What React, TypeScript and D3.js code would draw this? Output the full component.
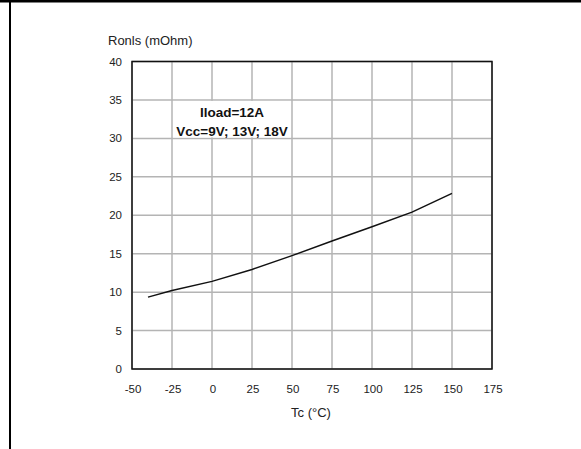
import React from "react";
import * as d3 from "d3";

const tempC = [-40, -25, 0, 25, 50, 75, 100, 125, 150];
const ronls = [9.35, 10.2, 11.4, 12.95, 14.75, 16.65, 18.5, 20.4, 22.85];
const xTicks = [-50, -25, 0, 25, 50, 75, 100, 125, 150, 175];
const yTicks = [0, 5, 10, 15, 20, 25, 30, 35, 40];
const annotLines = ["Iload=12A", "Vcc=9V; 13V; 18V"];

const W = 581, H = 449;
const L = 132, R = 492, T = 61.5, B = 369;

export default function App() {
  const x = d3.scaleLinear().domain([-50, 175]).range([L, R]);
  const y = d3.scaleLinear().domain([0, 40]).range([B, T]);
  const line = d3.line<number>().x((_, i) => x(tempC[i])).y((d) => y(d)).curve(d3.curveLinear);
  const font = "'Liberation Sans', Arial, sans-serif";
  const bx0 = x(-25), bx1 = x(50), by0 = y(35), by1 = y(30);
  return (
    <svg width={W} height={H} style={{ position: "absolute", left: 0, top: 0, background: "#fff" }} fontFamily={font}>
      <rect x={0} y={0} width={W} height={H} fill="#fff" />
      <line x1={0} x2={W} y1={1.25} y2={1.25} stroke="#000" strokeWidth={2.5} />
      <line x1={10} x2={10} y1={0} y2={H} stroke="#000" strokeWidth={2} />
      {xTicks.map((t) => (
        <line key={"gx" + t} x1={x(t)} x2={x(t)} y1={T} y2={B} stroke="#b4b4b4" strokeWidth={1.5} />
      ))}
      {yTicks.map((t) => (
        <line key={"gy" + t} x1={L} x2={R} y1={y(t)} y2={y(t)} stroke="#b4b4b4" strokeWidth={1.5} />
      ))}
      <rect x={bx0 + 1} y={by0 + 1} width={bx1 - bx0 - 2} height={by1 - by0 - 2} fill="#fff" />
      <rect x={L} y={T} width={R - L} height={B - T} fill="none" stroke="#111" strokeWidth={1.5} />
      <path d={line(ronls) || ""} fill="none" stroke="#111" strokeWidth={1.5} />
      {yTicks.map((t) => (
        <text key={"ly" + t} x={122} y={y(t)} dy="0.35em" textAnchor="end" fontSize={11.5} fill="#222">{t}</text>
      ))}
      {xTicks.map((t) => (
        <text key={"lx" + t} x={x(t) + 1} y={389} dy="0.35em" textAnchor="middle" fontSize={11.5} fill="#222">{t}</text>
      ))}
      <text x={108} y={40} dy="0.35em" fontSize={13} fill="#222">Ronls (mOhm)</text>
      <text x={311} y={412} dy="0.35em" textAnchor="middle" fontSize={13} fill="#222">Tc (°C)</text>
      {annotLines.map((s, i) => (
        <text key={s} x={(bx0 + bx1) / 2} y={117 + i * 18.5} textAnchor="middle" fontSize={13.5} fontWeight="bold" fill="#111">{s}</text>
      ))}
    </svg>
  );
}
